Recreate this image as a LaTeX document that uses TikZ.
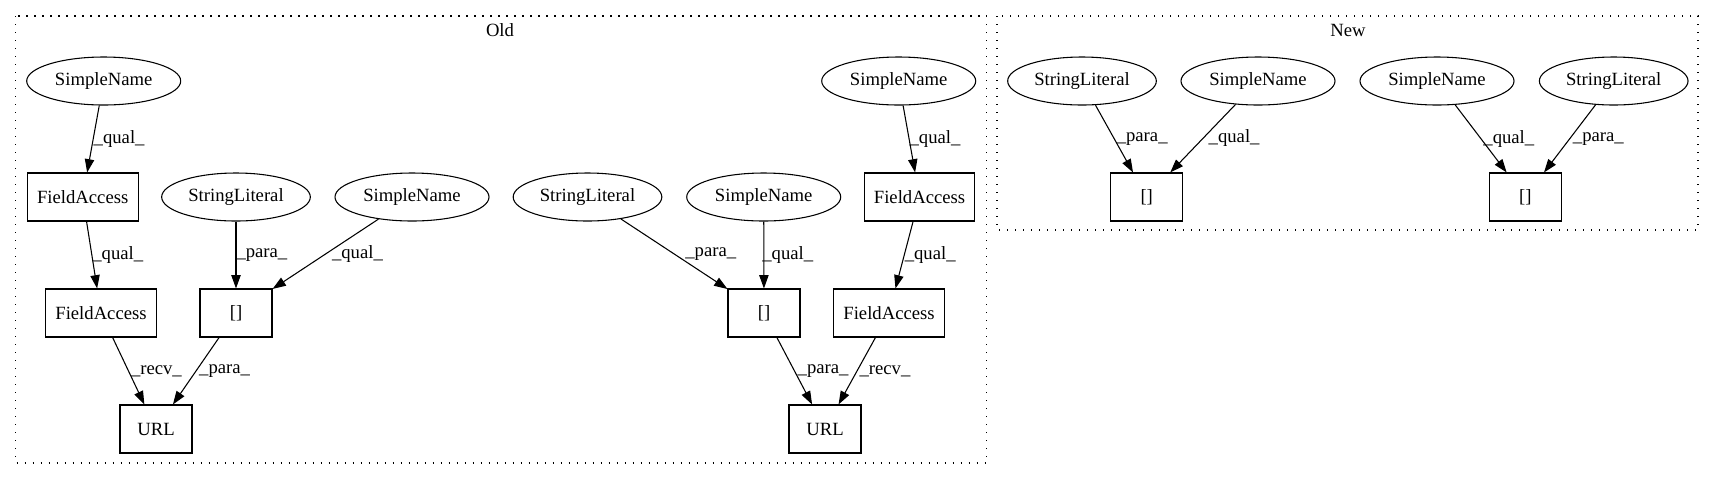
\documentclass[tikz,border=0pt]{standalone}
\usepackage{fontspec}
\setmainfont{Liberation Serif}
\usetikzlibrary{shapes.geometric,arrows.meta}

\begin{document}
\begin{tikzpicture}[x=0.75pt,y=-0.75pt,
    every node/.append style={font=\fontsize{14}{16}\selectfont},
    ast/.style={draw,ellipse,line width=0.8pt,inner sep=0pt,minimum height=36pt,minimum width=115.5pt},
    lit/.style={ast,minimum width=111.5pt},
    stmt/.style={draw,rectangle,line width=0.8pt,inner sep=0pt,minimum height=36pt,minimum width=54pt},
    field/.style={stmt,minimum width=83pt},
    flow/.style={-{Triangle[length=10pt,width=7pt]},line width=0.8pt},
    lbl/.style={anchor=west,inner sep=0pt},
    cluster/.style={line width=1pt,dash pattern=on 1pt off 5pt}]
      \useasboundingbox (0,0) rectangle (1715,480);

      % clusters
      \coordinate (Oldnw) at (15.5,16);
      \coordinate (Oldse) at (986.5,463);
      \coordinate (Newnw) at (997,16);
      \coordinate (Newse) at (1698,230);
      \draw[cluster] (Oldnw) rectangle (Oldse);
      \draw[cluster] (Newnw) rectangle (Newse);
      \node (Oldt) at (500,30) {Old};
      \node (Newt) at (1348,30) {New};

      % old, left part
      \node[ast] (SNl) at (103.7,81) {SimpleName};
      \node[field] (FAl) at (82.7,197) {FieldAccess};
      \node[field] (FAlp) at (101,313) {FieldAccess};
      \node[stmt] (URLl) at (156,429) {URL};
      \node[lit] (SLl) at (236,197) {StringLiteral};
      \node[ast] (SNlp) at (412,197) {SimpleName};
      \node[stmt] (Idxl) at (236,313) {[]};

      % old, right part
      \node[ast] (SNr) at (898.7,81) {SimpleName};
      \node[field] (FAr) at (919.5,197) {FieldAccess};
      \node[field] (FArp) at (889,313) {FieldAccess};
      \node[stmt] (URLr) at (825,429) {URL};
      \node[lit] (SLr) at (587.5,197) {StringLiteral};
      \node[ast] (SNrp) at (763.7,197) {SimpleName};
      \node[stmt] (Idxr) at (764,313) {[]};

      % new
      \node[lit] (SLn) at (1082,81) {StringLiteral};
      \node[ast] (SNn) at (1258,81) {SimpleName};
      \node[stmt] (Idxn) at (1146.7,197) {[]};
      \node[ast] (SNm) at (1437,81) {SimpleName};
      \node[lit] (SLm) at (1613.7,81) {StringLiteral};
      \node[stmt] (Idxm) at (1525.3,197) {[]};

      \draw[flow] (SNl) -- node[lbl] {\_qual\_} (FAl);
      \draw[flow] (FAl) -- node[lbl] {\_qual\_} (FAlp);
      \draw[flow] (SLl) -- node[lbl] {\_para\_} (Idxl);
      \draw[flow] (SNlp) -- node[lbl,xshift=4.5pt] {\_qual\_} (Idxl);
      \draw[flow] (FAlp) -- node[lbl,xshift=1.5pt] {\_recv\_} (URLl);
      \draw[flow] (Idxl) -- node[lbl,xshift=2pt] {\_para\_} (URLl);

      \draw[flow] (SNr) -- node[lbl] {\_qual\_} (FAr);
      \draw[flow] (FAr) -- node[lbl] {\_qual\_} (FArp);
      \draw[flow] (SLr) -- node[lbl,xshift=8pt] {\_para\_} (Idxr);
      \draw[flow] (SNrp) -- node[lbl,xshift=-1.5pt] {\_qual\_} (Idxr);
      \draw[flow] (Idxr) -- node[lbl,xshift=2pt] {\_para\_} (URLr);
      \draw[flow] (FArp) -- node[lbl,xshift=1.5pt] {\_recv\_} (URLr);

      \draw[flow] (SLn) -- node[lbl,xshift=1.5pt] {\_para\_} (Idxn);
      \draw[flow] (SNn) -- node[lbl,xshift=4pt] {\_qual\_} (Idxn);
      \draw[flow] (SNm) -- node[lbl,xshift=1.5pt] {\_qual\_} (Idxm);
      \draw[flow] (SLm) -- node[lbl,xshift=2pt] {\_para\_} (Idxm);
    \end{tikzpicture}
\end{document}
